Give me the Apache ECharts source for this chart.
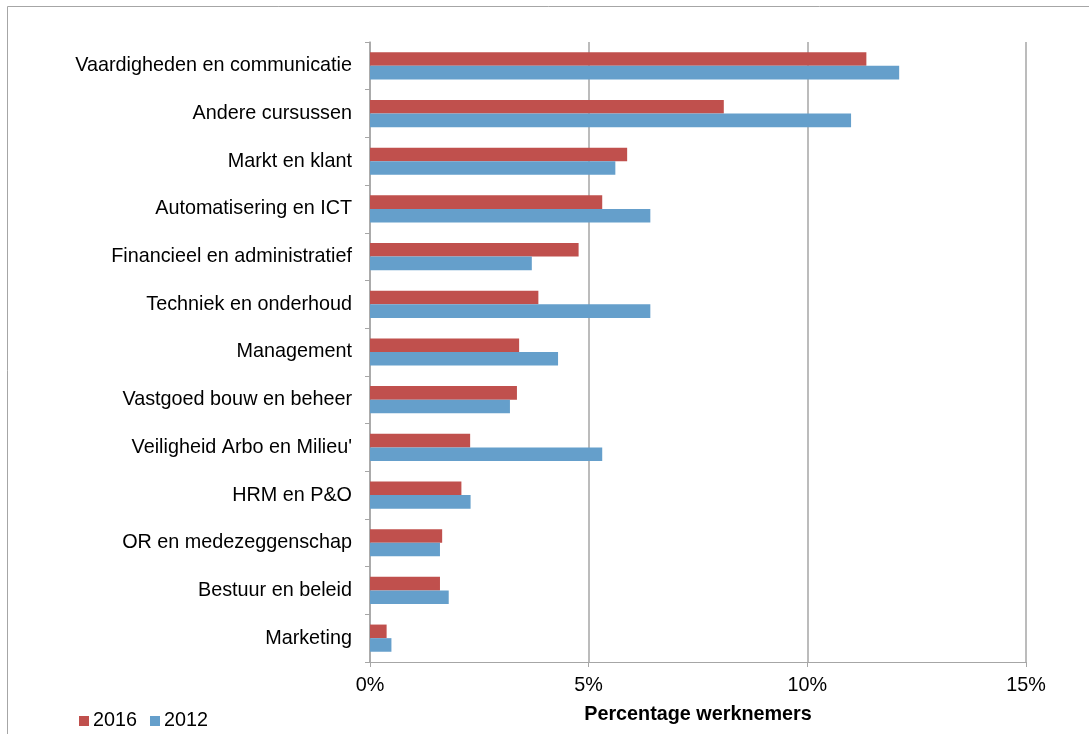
<!DOCTYPE html>
<html>
<head>
<meta charset="utf-8">
<title>Percentage werknemers per cursustype</title>
<script src="https://cdn.jsdelivr.net/npm/echarts@6/dist/echarts.min.js"></script>
<style>
  html, body { margin: 0; padding: 0; background: #fff; }
  #chart { width: 1089px; height: 734px; }
</style>
</head>
<body>
<div id="chart"></div>
<script>
// Cursuscategorieën, van boven naar beneden
const categories = [
  'Vaardigheden en communicatie',
  'Andere cursussen',
  'Markt en klant',
  'Automatisering en ICT',
  'Financieel en administratief',
  'Techniek en onderhoud',
  'Management',
  'Vastgoed bouw en beheer',
  "Veiligheid Arbo en Milieu'",
  'HRM en P&O',
  'OR en medezeggenschap',
  'Bestuur en beleid',
  'Marketing'
];

// Percentage werknemers dat een cursus volgde
const values2016 = [11.35, 8.09, 5.88, 5.31, 4.77, 3.85, 3.41, 3.36, 2.29, 2.09, 1.65, 1.60, 0.38];
const values2012 = [12.10, 11.00, 5.61, 6.41, 3.70, 6.41, 4.30, 3.20, 5.31, 2.30, 1.60, 1.80, 0.49];

const xTicks = [0, 5, 10, 15];

const FONT = '"Liberation Sans", Arial, sans-serif';
const FONT_SIZE = 19.8;
const GRID_GRAY = '#a6a6a6';

const chart = echarts.init(document.getElementById('chart'), null, { renderer: 'canvas' });

chart.setOption({
  animation: false,
  backgroundColor: '#ffffff',
  textStyle: { fontFamily: FONT },
  graphic: [{
    type: 'rect',
    shape: { x: 7.5, y: 6.5, width: 1200, height: 1000 },
    style: { fill: 'none', stroke: GRID_GRAY, lineWidth: 1 },
    silent: true
  }],
  grid: { left: 370, right: 63, top: 42, bottom: 72, containLabel: false },
  legend: {
    left: 74,
    top: 706,
    itemWidth: 10,
    itemHeight: 10,
    itemGap: 13,
    icon: 'rect',
    textStyle: { fontFamily: FONT, fontSize: FONT_SIZE, color: '#000', padding: [0, 0, 0, -1] },
    data: ['2016', '2012']
  },
  xAxis: {
    type: 'value',
    min: xTicks[0],
    max: xTicks[xTicks.length - 1],
    interval: 5,
    name: 'Percentage werknemers',
    nameLocation: 'middle',
    nameGap: 43,
    nameTextStyle: { fontFamily: FONT, fontSize: FONT_SIZE, fontWeight: 'bold', color: '#000' },
    axisLine: { show: true, lineStyle: { color: GRID_GRAY, width: 1 } },
    axisTick: { show: true, length: 5, lineStyle: { color: GRID_GRAY } },
    axisLabel: {
      fontFamily: FONT, fontSize: FONT_SIZE, color: '#000', margin: 14,
      formatter: v => v + '%'
    },
    splitLine: { show: true, lineStyle: { color: GRID_GRAY, width: 1.5 } }
  },
  yAxis: {
    type: 'category',
    inverse: true,
    data: categories,
    axisLine: { show: true, lineStyle: { color: GRID_GRAY, width: 1.5 } },
    axisTick: { show: true, length: 5, lineStyle: { color: GRID_GRAY } },
    axisLabel: { fontFamily: FONT, fontSize: FONT_SIZE, color: '#000', margin: 18, padding: [4, 0, 0, 0] },
    splitLine: { show: false }
  },
  series: [
    {
      name: '2016',
      type: 'bar',
      data: values2016,
      barGap: '0%',
      barCategoryGap: '43%',
      itemStyle: { color: '#c0504d' }
    },
    {
      name: '2012',
      type: 'bar',
      data: values2012,
      barGap: '0%',
      barCategoryGap: '43%',
      itemStyle: { color: '#659fcb' }
    }
  ]
});
</script>
</body>
</html>
